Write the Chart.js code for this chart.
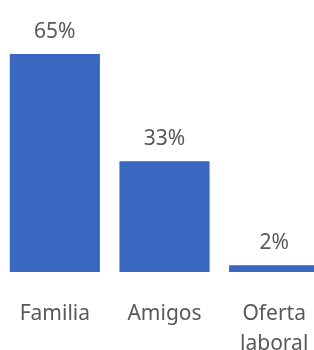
<!DOCTYPE html>
<html>
<head>
<meta charset="utf-8">
<script src="https://cdn.jsdelivr.net/npm/chart.js@4"></script>
<style>
  html, body { margin: 0; padding: 0; overflow: hidden; background: #fff; width: 314px; height: 350px; }
  #wrap { width: 314px; height: 350px; overflow: hidden; position: relative; }
  canvas { display: block; }
</style>
</head>
<body>
<div id="wrap"><canvas id="c" width="329" height="359" style="width:329px;height:359px"></canvas></div>
<script>
const categories = [["Familia"], ["Amigos"], ["Oferta", "laboral"]];
const values = [65, 33, 2];
const valueLabels = ["65%", "33%", "2%"];

const textColor = "#595959";
const barColor = "#3A67BF";
const fontFamily = "'Noto Sans', 'Open Sans', sans-serif";

const dataLabelPlugin = {
  id: "dataLabels",
  afterDatasetsDraw(chart) {
    const ctx = chart.ctx;
    const meta = chart.getDatasetMeta(0);
    ctx.save();
    ctx.font = "21px " + fontFamily;
    ctx.fillStyle = textColor;
    ctx.textAlign = "center";
    ctx.textBaseline = "alphabetic";
    meta.data.forEach((bar, i) => {
      ctx.fillText(valueLabels[i], bar.x, bar.y - 16.5);
    });
    ctx.restore();
  }
};

new Chart(document.getElementById("c"), {
  type: "bar",
  data: {
    labels: categories,
    datasets: [{
      data: values,
      backgroundColor: barColor,
      borderWidth: 0,
      categoryPercentage: 1,
      barPercentage: 0.822
    }]
  },
  options: {
    responsive: false,
    animation: false,
    devicePixelRatio: 1,
    layout: { padding: { top: 54, left: 0, right: 0, bottom: 0 } },
    plugins: { legend: { display: false }, tooltip: { enabled: false } },
    scales: {
      x: {
        grid: { display: false, drawTicks: true, tickLength: 27 },
        border: { display: false },
        ticks: {
          color: textColor,
          font: { family: fontFamily, size: 21, lineHeight: "30px" },
          padding: 0,
          maxRotation: 0,
          autoSkip: false
        }
      },
      y: {
        display: false,
        min: 0,
        max: Math.max(...values)
      }
    }
  },
  plugins: [dataLabelPlugin]
});
</script>
</body>
</html>
